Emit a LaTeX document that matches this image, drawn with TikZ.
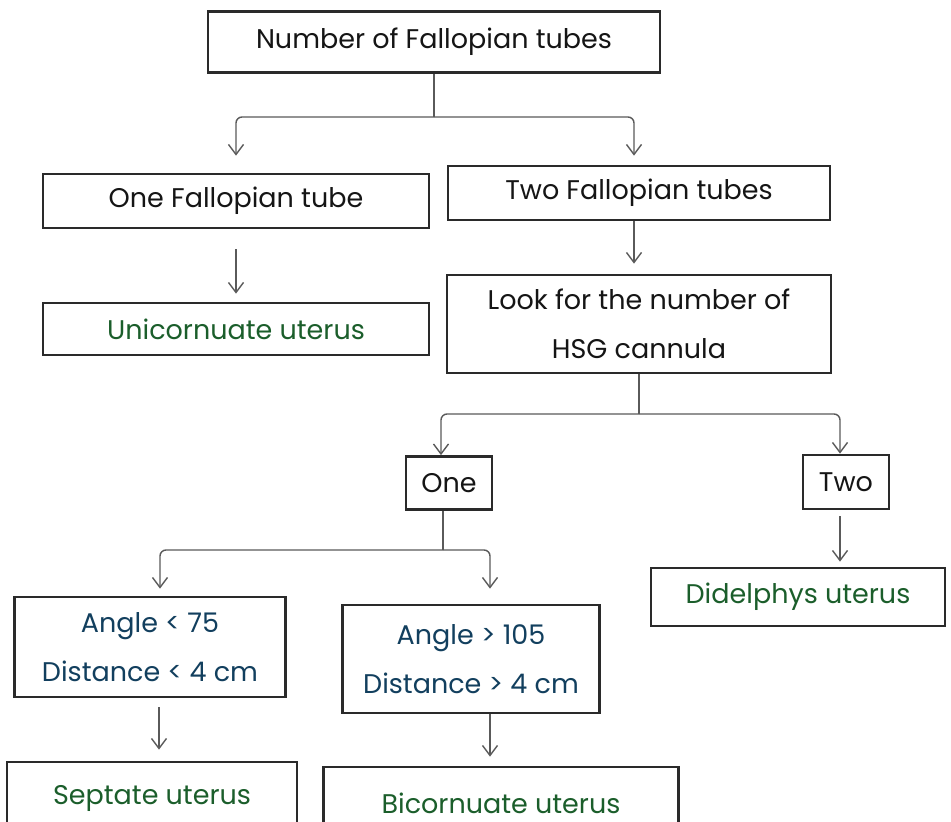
\documentclass[tikz,border=0pt]{standalone}
\usepackage{fontspec}
\setmainfont{Poppins}
\usetikzlibrary{arrows.meta}
\definecolor{boxline}{HTML}{2A2A2A}
\definecolor{linkgrey}{HTML}{5A5A5A}
\definecolor{inkblack}{HTML}{151515}
\definecolor{resgreen}{HTML}{1B5E2B}
\definecolor{condblue}{HTML}{123F5E}

\begin{document}
\begin{tikzpicture}[x=1pt, y=-1pt,
        every node/.style={font=\fontsize{27}{49}\selectfont, text=inkblack},
        box/.style={rectangle, draw=boxline, line width=2.8pt, inner sep=0pt, align=center},
        wh/.style 2 args={minimum width=#1pt, minimum height=#2pt},
        result/.style={box, text=resgreen},
        cond/.style={box, text=condblue},
        link/.style={draw=linkgrey, line width=1.4pt},
        arrow/.style={link, -{Straight Barb[length=10pt, width=15pt]}},
        branch/.style={arrow, rounded corners=6pt}]
    \useasboundingbox (0,0) rectangle (951,822);
    \fill[white] (0,0) rectangle (951,822);
    \clip (0,0) rectangle (951,822);
    % boxes
    \node[box, wh={452}{61}] (top) at (434,42) {Number of Fallopian tubes};
    \node[box, wh={386}{54}] (onetube) at (236,201) {One Fallopian tube};
    \node[box, wh={382}{54}] (twotube) at (639,193) {Two Fallopian tubes};
    \node[result, wh={386}{52}] (unicorn) at (236,329) {Unicornuate uterus};
    \node[box, wh={384}{98}] (look) at (639,324) {Look for the number of\\HSG cannula};
    \node[box, wh={86}{53}] (one) at (449,483) {One};
    \node[box, wh={86}{54}] (two) at (846,482) {Two};
    \node[result, wh={294}{58}] (didelphys) at (798,597) {Didelphys uterus};
    \node[cond, wh={271}{100}] (anglelt) at (150,647) {Angle < 75\\Distance < 4 cm};
    \node[cond, wh={257}{108}] (anglegt) at (471,659) {Angle > 105\\Distance > 4 cm};
    \node[result, wh={290}{72}] (septate) at (152,798) {Septate uterus};
    \node[result, wh={355}{72}] (bicorn) at (501,803) {Bicornuate uterus};
    % split points
    \coordinate (s1) at (434,117);
    \coordinate (s2) at (639,414);
    \coordinate (s3) at (443,550);
    % connectors
    \draw[link] (top) -- (s1);
    \draw[branch] (s1) -| ([yshift=17pt]onetube.north);
    \draw[branch] (s1) -| ([xshift=-5pt, yshift=9pt]twotube.north);
    \draw[arrow] ([yshift=-20pt]onetube.south) -- ([yshift=8pt]unicorn.north);
    \draw[arrow] ([xshift=-5pt]twotube.south) -- ([xshift=-5pt, yshift=10pt]look.north);
    \draw[link] (look) -- (s2);
    \draw[branch] (s2) -| ([xshift=-8pt]one.north);
    \draw[branch] (s2) -| ([xshift=-6pt]two.north);
    \draw[arrow] ([xshift=-6pt, yshift=-6pt]two.south) -- ([xshift=42pt, yshift=5pt]didelphys.north);
    \draw[link] ([xshift=-6pt]one.south) -- (s3);
    \draw[branch] (s3) -| ([xshift=10pt, yshift=7pt]anglelt.north);
    \draw[branch] (s3) -| ([xshift=19pt, yshift=15pt]anglegt.north);
    \draw[arrow] ([xshift=9pt, yshift=-9pt]anglelt.south) -- ([xshift=7pt, yshift=11pt]septate.north);
    \draw[arrow] ([xshift=19pt]anglegt.south) -- ([xshift=-11pt, yshift=9pt]bicorn.north);
\end{tikzpicture}
\end{document}
